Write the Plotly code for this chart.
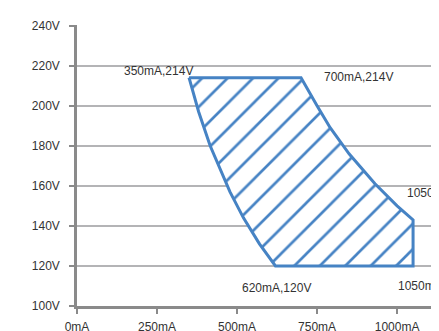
import plotly.graph_objects as go

# operating window (mA, V)
top_current = [350, 700]
top_voltage = [214, 214]
right_current = [750, 791, 850, 931, 1000, 1050, 1050]
right_voltage = [200, 189, 176, 161, 150, 143, 120]
bottom_current = [620]
bottom_voltage = [120]
left_current = [570, 520, 478, 450, 416, 380, 350]
left_voltage = [131, 144, 157, 167, 180, 197, 214]

x_ticks = [0, 250, 500, 750, 1000]
y_ticks = [100, 120, 140, 160, 180, 200, 220, 240]

corner_labels = [
    # (mA, V, text, xanchor, xshift, yshift)
    (350, 214, "350mA,214V", "right", 6, 7),
    (700, 214, "700mA,214V", "left", 21, 1),
    (1050, 143, "1050mA,143V", "left", -8, 27),
    (620, 120, "620mA,120V", "center", 1, -22),
    (1050, 120, "1050mA,120V", "left", -17, -20),
]

BLUE = "#4683c4"
FONT = "Liberation Sans, Arial, sans-serif"

xs = top_current + right_current + bottom_current + left_current
ys = top_voltage + right_voltage + bottom_voltage + left_voltage

fig = go.Figure()
fig.add_trace(
    go.Scatter(
        x=xs,
        y=ys,
        mode="lines",
        fill="toself",
        fillcolor="white",
        fillpattern=dict(shape="/", fgcolor=BLUE, fgopacity=1, bgcolor="white",
                         size=18, solidity=0.15),
        line=dict(color=BLUE, width=3),
        showlegend=False,
        hoverinfo="skip",
    )
)

for cx, cy, txt, xa, xs_, ys_ in corner_labels:
    fig.add_annotation(
        x=cx, y=cy, text=txt, showarrow=False,
        xanchor=xa, yanchor="middle", xshift=xs_, yshift=ys_,
        font=dict(family=FONT, size=12, color="#333333"),
    )

# the page body adds 8px, so margins are trimmed by that much
fig.update_layout(
    width=439,
    height=331,
    margin=dict(l=69, r=0, t=17, b=33),
    paper_bgcolor="white",
    plot_bgcolor="white",
    font=dict(family=FONT, size=12, color="#333333"),
)
fig.update_xaxes(
    range=[0, 1156],
    tickvals=x_ticks,
    ticktext=[f"{v}mA" for v in x_ticks],
    showgrid=False,
    zeroline=False,
    showline=True,
    linecolor="#8a8a8a",
    linewidth=2.5,
    ticks="outside",
    ticklen=5,
    tickwidth=2,
    tickcolor="#8a8a8a",
    ticklabelstandoff=3,
)
fig.update_yaxes(
    range=[100, 240.3],
    tickvals=y_ticks,
    ticktext=[f"{v}V" for v in y_ticks],
    showgrid=True,
    gridcolor="#b4b4b6",
    gridwidth=2,
    zeroline=False,
    showline=True,
    linecolor="#8a8a8a",
    linewidth=2.5,
    ticks="outside",
    ticklen=5,
    tickwidth=2,
    tickcolor="#8a8a8a",
    ticklabelstandoff=7,
)

fig.write_html("out.html")
